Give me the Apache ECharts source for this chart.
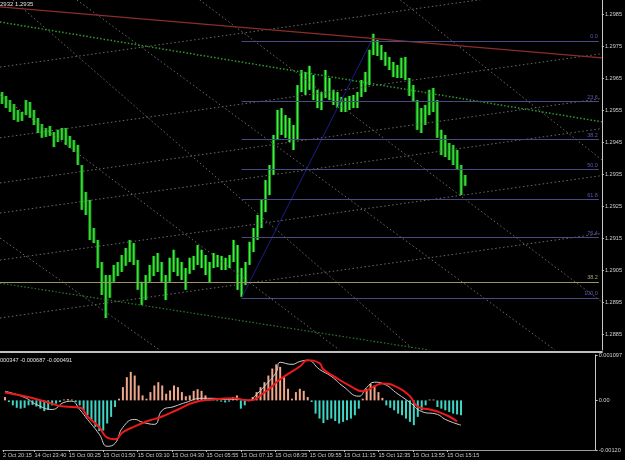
<!DOCTYPE html>
<html>
<head>
<meta charset="utf-8">
<script src="https://cdn.jsdelivr.net/npm/echarts@6/dist/echarts.min.js"></script>
<style>
html, body { margin: 0; padding: 0; background: #000; }
#main { width: 625px; height: 460px; }
</style>
</head>
<body>
<div id="main"></div>
<script>
// price columns (high / low), one column per ~2 bars
var priceHigh = [
    1.29606,1.29594,1.29581,1.29569,1.29550,1.29544,1.29581,1.29575,1.29550,1.29525,
    1.29506,1.29494,1.29500,1.29481,1.29488,1.29494,1.29494,1.29469,1.29456,1.29441,
    1.29378,1.29294,1.29269,1.29181,1.29144,1.29075,1.29034,1.29034,1.29066,1.29075,
    1.29097,1.29119,1.29144,1.29134,1.29081,1.29013,1.29034,1.29066,1.29094,1.29103,
    1.29075,1.29034,1.29088,1.29113,1.29088,1.29075,1.29056,1.29088,1.29094,1.29128,
    1.29113,1.29097,1.29075,1.29103,1.29097,1.29094,1.29088,1.29097,1.29144,1.29128,
    1.29056,1.29075,1.29138,1.29181,1.29222,1.29269,1.29331,1.29378,1.29472,1.29550,
    1.29556,1.29534,1.29525,1.29503,1.29628,1.29675,1.29669,1.29688,1.29659,1.29613,
    1.29606,1.29675,1.29650,1.29613,1.29606,1.29591,1.29588,1.29594,1.29597,1.29606,
    1.29644,1.29669,1.29738,1.29788,1.29769,1.29753,1.29731,1.29716,1.29700,1.29691,
    1.29713,1.29716,1.29650,1.29628,1.29581,1.29556,1.29566,1.29613,1.29619,1.29581,
    1.29488,1.29472,1.29447,1.29441,1.29425,1.29378,1.29347
];
var priceLow = [
    1.29569,1.29556,1.29544,1.29519,1.29513,1.29516,1.29534,1.29525,1.29503,1.29478,
    1.29463,1.29466,1.29469,1.29434,1.29450,1.29456,1.29441,1.29431,1.29419,1.29378,
    1.29238,1.29222,1.29144,1.29134,1.29056,1.28972,1.28900,1.28963,1.29013,1.29031,
    1.29044,1.29063,1.29075,1.29066,1.28988,1.28941,1.28956,1.29013,1.29031,1.29044,
    1.29013,1.28956,1.29013,1.29044,1.29031,1.29019,1.28988,1.29038,1.29050,1.29066,
    1.29056,1.29034,1.29009,1.29056,1.29059,1.29050,1.29050,1.29056,1.29075,1.28988,
    1.28966,1.29003,1.29066,1.29106,1.29144,1.29181,1.29231,1.29284,1.29347,1.29456,
    1.29472,1.29463,1.29450,1.29425,1.29456,1.29606,1.29597,1.29613,1.29581,1.29556,
    1.29550,1.29588,1.29581,1.29566,1.29556,1.29544,1.29544,1.29550,1.29556,1.29556,
    1.29591,1.29606,1.29628,1.29722,1.29719,1.29706,1.29688,1.29675,1.29653,1.29650,
    1.29650,1.29644,1.29594,1.29575,1.29488,1.29478,1.29503,1.29534,1.29544,1.29463,
    1.29409,1.29403,1.29394,1.29378,1.29363,1.29284,1.29313
];
var lastPrice = 1.2935;
var priceTicks = [1.2885, 1.2895, 1.2905, 1.2915, 1.2925, 1.2935, 1.2945, 1.2955, 1.2965, 1.2975, 1.2985];

var timeLabels = ['2 Oct 20:15', '14 Oct 23:40', '15 Oct 00:25', '15 Oct 01:50', '15 Oct 03:10',
    '15 Oct 04:30', '15 Oct 05:55', '15 Oct 07:15', '15 Oct 08:35', '15 Oct 09:55',
    '15 Oct 11:15', '15 Oct 12:35', '15 Oct 13:55', '15 Oct 15:15'];

// MACD window
var macdHist = [
    0.00008,-0.00004,-0.00012,-0.00018,-0.0002,-0.00018,-0.00012,-0.00011,-0.00015,-0.0002,
    -0.00026,-0.00023,-0.00012,-0.00008,-0.00004,0.00002,0.00003,0.00002,-0.00004,-0.00012,
    -0.00024,-0.00036,-0.00048,-0.00064,-0.00074,-0.00073,-0.00056,-0.0004,-0.00016,0.00004,
    0.00032,0.00056,0.00069,0.0006,0.00036,0.00012,0.00004,0.0002,0.00036,0.00044,
    0.00036,0.00016,0.00024,0.00036,0.00032,0.0002,0.0001,0.00012,0.00023,0.00027,
    0.00023,0.00012,0.00004,0.00002,-0.00002,-0.00003,-0.00005,-0.00003,0.00008,0.00012,
    -0.0002,-0.00012,-0.00002,0.00008,0.0002,0.00032,0.00044,0.0006,0.00077,0.00087,
    0.00081,0.00056,0.00028,0.00004,0.0002,0.00028,0.00023,0.00008,-0.00004,-0.00032,
    -0.00044,-0.00055,-0.00047,-0.00044,-0.0005,-0.00056,-0.00052,-0.00048,-0.00044,-0.00036,
    -0.0002,0.00004,0.00028,0.0004,0.00036,0.0002,0.00006,-0.00012,-0.00018,-0.00024,
    -0.00032,-0.00036,-0.00044,-0.00052,-0.0006,-0.0004,-0.00024,-0.00012,0.00002,0.00002,
    -0.00016,-0.0002,-0.00024,-0.00028,-0.00032,-0.00034,-0.00036
];
var macdMain = [[0,0.00022],[5,0.00007],[8,-0.0001],[12,-0.00022],[15,-0.00005],[17,-0.00002],
    [19,-0.00022],[21,-0.00046],[24,-0.00082],[26,-0.00111],[28,-0.00104],[30,-0.00065],
    [33,-0.00046],[35,-0.00053],[38,-0.00058],[40,-0.00024],[43,-0.00015],[46,-0.00005],
    [50,0.00005],[53,0.00005],[56,0.00002],[60,0.00002],[62,0],[64,0.00015],[66,0.00034],
    [69,0.00068],[70,0.00092],[73,0.00087],[75,0.00094],[77,0.00097],[80,0.00075],
    [83,0.00058],[86,0.00034],[90,0.0001],[92,0.00031],[94,0.00044],[96,0.00041],
    [100,0.00015],[103,-0.00005],[106,-0.00027],[110,-0.00034],[112,-0.00046],[116,-0.0006]];
var macdSignal = [[0,0.00019],[5,0.0001],[10,-0.00002],[15,-0.00015],[19,-0.00017],[21,-0.00039],
    [24,-0.00065],[26,-0.0009],[28,-0.00094],[30,-0.00077],[33,-0.00063],[36,-0.00051],
    [40,-0.00039],[44,-0.00022],[48,-0.00005],[53,0.00002],[58,0.00005],[62,0],[66,0.00019],
    [70,0.00051],[75,0.00082],[77,0.00097],[80,0.0009],[81,0.00075],[84,0.00056],[88,0.00034],
    [91,0.00022],[94,0.00034],[96,0.00041],[100,0.00031],[103,0.0001],[105,-0.00015],
    [108,-0.00022],[110,-0.00027],[113,-0.00039],[115,-0.00051]];
var macdTicks = [-0.0012, 0, 0.001097];
var macdTickText = ['-0.00120', '0.00', '0.001097'];

// drawn objects
var fibRatios = [0, 23.6, 38.2, 50, 61.8, 76.4, 100];
var fibHigh = 1.29766, fibLow = 1.28963;
var fibStart = 60, fibTop = 92.5, fibEnd = 149.5;
var khakiLevel = 1.29013;
var redTrend = [[-0.5, 1.29872], [150.25, 1.29713]];
var greenUpper = [[-0.5, 1.29825], [150.25, 1.29513]];
var greenLower = [[-0.5, 1.29009], [107, 1.288]];
var greyLines = [
    [[-0.5, 1.29684], [150.25, 1.29948]],
    [[-0.5, 1.29463], [150.25, 1.29726]],
    [[-0.5, 1.29322], [150.25, 1.29586]],
    [[-0.5, 1.29228], [150.25, 1.29492]],
    [[-0.5, 1.29081], [150.25, 1.29345]],
    [[-0.5, 1.289], [150.25, 1.29164]],
    [[2.75, 1.29894], [103.25, 1.288]],
    [[18.75, 1.29894], [138.5, 1.288]],
    [[49.5, 1.29894], [150.25, 1.2895]],
    [[99.75, 1.29894], [150.25, 1.29394]],
    [[-0.5, 1.29597], [84.5, 1.288]],
    [[-0.5, 1.2915], [39.5, 1.288]]
];

var xMin = -0.5, xMax = 150.25;
var labelFont = 'Liberation Sans';

var timePos = timeLabels.map(function (t, k) { return k === 0 ? xMin : k * 8.75 - 1.25; });

var myChart = echarts.init(document.getElementById('main'));

var series = [];

greyLines.forEach(function (l) {
    series.push({
        type: 'line', xAxisIndex: 0, yAxisIndex: 0, data: l, symbol: 'none', silent: true,
        lineStyle: { color: '#6a6a6a', width: 1, type: [1.5, 2.5] }
    });
});
series.push({
    type: 'line', data: greenUpper, symbol: 'none', silent: true,
    lineStyle: { color: '#2f9a2f', width: 1.5, type: [1.5, 2] }
});
series.push({
    type: 'line', data: greenLower, symbol: 'none', silent: true,
    lineStyle: { color: '#2a7a2a', width: 1.2, type: [1.5, 2] }
});
series.push({
    type: 'line', data: redTrend, symbol: 'none', silent: true,
    lineStyle: { color: '#8e2c2c', width: 1.2 }
});
// fibo retracement
series.push({
    type: 'line', data: [[fibStart, fibLow], [fibTop, fibHigh]], symbol: 'none', silent: true,
    lineStyle: { color: '#1c1c88', width: 1 },
    markLine: {
        symbol: 'none', silent: true, animation: false,
        lineStyle: { color: '#4a4a82', width: 1, type: 'solid' },
        label: { position: 'insideEndTop', formatter: '{b}', color: '#5a5ab0', fontSize: 5.5, distance: 1, fontFamily: labelFont },
        data: fibRatios.map(function (r) {
            var p = fibHigh - (fibHigh - fibLow) * r / 100;
            return [{ coord: [fibStart, p], name: r.toFixed(1) }, { coord: [fibEnd, p] }];
        })
    }
});
series.push({
    type: 'line', data: [], symbol: 'none', silent: true,
    markLine: {
        symbol: 'none', silent: true, animation: false,
        lineStyle: { color: '#9a9468', width: 1, type: 'solid' },
        label: { position: 'insideEndTop', formatter: '{b}', color: '#a8a070', fontSize: 5.5, distance: 1, fontFamily: labelFont },
        data: [[{ coord: [xMin, khakiLevel], name: '38.2' }, { coord: [fibEnd, khakiLevel] }]]
    }
});
// price bars: dark body with a bright stroke, like the dense MT4 bars
series.push({
    type: 'custom', xAxisIndex: 0, yAxisIndex: 0,
    data: priceHigh.map(function (h, i) { return [i, h, priceLow[i]]; }),
    encode: { x: 0, y: [1, 2] },
    renderItem: function (params, api) {
        var top = api.coord([api.value(0), api.value(1)]);
        var bot = api.coord([api.value(0), api.value(2)]);
        var h = Math.max(1, bot[1] - top[1]);
        return {
            type: 'group',
            children: [
                { type: 'rect', shape: { x: top[0] - 1.6, y: top[1], width: 3.2, height: h }, style: { fill: '#138a13' } },
                { type: 'rect', shape: { x: top[0] - 0.6, y: top[1], width: 1.2, height: h }, style: { fill: '#45f045' } }
            ]
        };
    },
    markLine: {
        symbol: 'none', silent: true, animation: false,
        lineStyle: { opacity: 0 },
        label: {
            position: 'end', formatter: lastPrice.toFixed(4), color: '#000', backgroundColor: '#fff',
            fontSize: 5.6, padding: [1, 2], distance: 1, fontFamily: labelFont
        },
        data: [{ yAxis: lastPrice }]
    }
});
// MACD
series.push({
    type: 'bar', xAxisIndex: 1, yAxisIndex: 1, barWidth: 2,
    data: macdHist.map(function (v, i) { return [i, v]; }),
    itemStyle: { color: function (p) { return p.value[1] >= 0 ? '#f0a78c' : '#3fd6c6'; } }
});
series.push({
    type: 'line', xAxisIndex: 1, yAxisIndex: 1, data: macdMain, smooth: true, symbol: 'none',
    lineStyle: { color: '#d0d0d0', width: 1 }
});
series.push({
    type: 'line', xAxisIndex: 1, yAxisIndex: 1, data: macdSignal, smooth: true, symbol: 'none',
    lineStyle: { color: '#ee1a1a', width: 2 }
});

var option = {
    backgroundColor: '#000',
    animation: false,
    textStyle: { fontFamily: labelFont },
    title: [
        { text: '2932 1.2935', left: 0, top: 1, padding: 0, textStyle: { color: '#e0e0e0', fontSize: 6, fontWeight: 'normal', fontFamily: labelFont } },
        { text: '000347 -0.000687 -0.000491', left: 0, top: 357, padding: 0, textStyle: { color: '#e0e0e0', fontSize: 5.6, fontWeight: 'normal', fontFamily: labelFont } }
    ],
    grid: [
        { left: 0, right: 22, top: 0, height: 350 },
        { left: 0, right: 22, top: 355, height: 95 }
    ],
    xAxis: [
        {
            gridIndex: 0, type: 'value', min: xMin, max: xMax, offset: 2,
            axisLine: { show: true, onZero: false, lineStyle: { color: '#c0c0c0', width: 2 } },
            axisTick: { show: false }, axisLabel: { show: false }, splitLine: { show: false }
        },
        {
            gridIndex: 1, type: 'value', min: xMin, max: xMax,
            axisLine: { show: true, onZero: false, lineStyle: { color: '#9a9a9a' } },
            axisTick: { show: true, customValues: timePos, length: 2, lineStyle: { color: '#c0c0c0' } },
            axisLabel: {
                customValues: timePos, align: 'left', margin: 2, color: '#c8c8c8', fontSize: 5.6,
                formatter: function (v) {
                    for (var k = 0; k < timePos.length; k++) {
                        if (Math.abs(timePos[k] - v) < 0.01) return timeLabels[k];
                    }
                    return '';
                }
            },
            splitLine: { show: false }
        }
    ],
    yAxis: [
        {
            gridIndex: 0, type: 'value', position: 'right', min: 1.288, max: 1.2989375,
            axisLine: { show: true, onZero: false, lineStyle: { color: '#c8c8c8' } },
            axisTick: { show: true, customValues: priceTicks, length: 2, lineStyle: { color: '#c8c8c8' } },
            axisLabel: {
                customValues: priceTicks, margin: 3, color: '#d0d0d0', fontSize: 5.6,
                formatter: function (v) { return v.toFixed(4); }
            },
            splitLine: { show: false }
        },
        {
            gridIndex: 1, type: 'value', position: 'right', min: -0.0012, max: 0.001097,
            axisLine: { show: true, onZero: false, lineStyle: { color: '#c8c8c8' } },
            axisTick: { show: true, customValues: macdTicks, length: 2, lineStyle: { color: '#c8c8c8' } },
            axisLabel: {
                customValues: macdTicks, margin: 3, color: '#d0d0d0', fontSize: 5.6,
                formatter: function (v) {
                    for (var k = 0; k < macdTicks.length; k++) {
                        if (Math.abs(macdTicks[k] - v) < 1e-7) return macdTickText[k];
                    }
                    return '';
                }
            },
            splitLine: { show: false }
        }
    ],
    series: series
};

myChart.setOption(option);
</script>
</body>
</html>
